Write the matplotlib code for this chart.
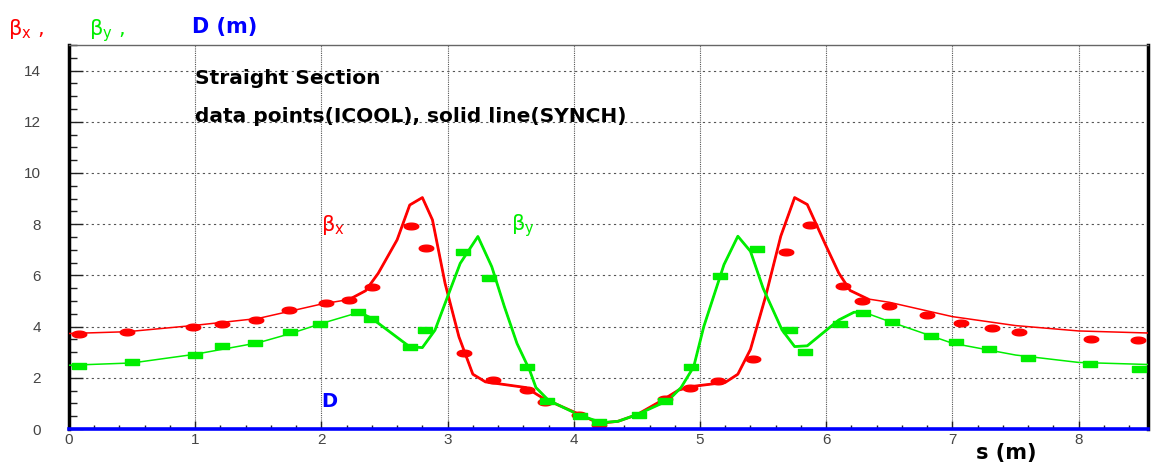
import numpy as np
import matplotlib.pyplot as plt
from matplotlib.ticker import MultipleLocator

plt.rcParams['mathtext.default'] = 'regular'

# SYNCH lattice functions (solid lines)
s_line = [0.0, 0.46, 1.0, 1.5, 1.75, 2.0, 2.22, 2.35, 2.45, 2.6, 2.7, 2.8, 2.88, 2.98, 3.09,
          3.2, 3.3, 3.62, 3.76, 4.05, 4.2, 4.35, 4.5, 4.7, 4.83, 4.95, 5.2, 5.3, 5.4, 5.52,
          5.64, 5.75, 5.85, 6.0, 6.1, 6.19, 6.33, 6.5, 7.0, 7.5, 8.0, 8.55]
betax_line = [3.73, 3.8, 4.05, 4.32, 4.6, 4.88, 5.06, 5.4, 6.08, 7.39, 8.75, 9.04, 8.17, 5.69, 3.6,
              2.14, 1.84, 1.62, 1.19, 0.56, 0.22, 0.3, 0.56, 1.12, 1.52, 1.67, 1.82, 2.14, 3.11, 5.18,
              7.53, 9.04, 8.77, 7.14, 6.09, 5.41, 5.08, 4.95, 4.39, 4.04, 3.83, 3.75]

s_liney = [0.0, 0.5, 1.0, 1.5, 1.75, 2.0, 2.3, 2.4, 2.7, 2.8, 2.9, 3.0, 3.1, 3.24, 3.35, 3.45,
           3.55, 3.65, 3.7, 3.8, 4.05, 4.22, 4.35, 4.5, 4.75, 4.85, 4.95, 5.03, 5.19, 5.3, 5.4,
           5.5, 5.65, 5.75, 5.85, 6.1, 6.22, 6.3, 6.5, 7.0, 7.5, 8.0, 8.55]
betay_line = [2.49, 2.58, 2.92, 3.37, 3.72, 4.12, 4.56, 4.32, 3.21, 3.18, 3.86, 5.17, 6.47, 7.52, 6.34, 4.78,
              3.34, 2.3, 1.62, 1.12, 0.53, 0.25, 0.3, 0.56, 1.12, 1.62, 2.43, 4.0, 6.42, 7.53, 6.94,
              5.5, 3.87, 3.22, 3.25, 4.26, 4.56, 4.56, 4.2, 3.35, 2.89, 2.6, 2.52]

# ICOOL data points
s_px = [0.08, 0.46, 0.985, 1.21, 1.48, 1.74, 2.04, 2.22, 2.40, 2.71, 2.83, 3.13, 3.36, 3.63, 3.77,
        4.04, 4.2, 4.72, 4.92, 5.14, 5.42, 5.68, 5.87, 6.13, 6.28, 6.50, 6.80, 7.07, 7.31, 7.53,
        8.10, 8.47]
betax_pts = [3.73, 3.80, 4.0, 4.09, 4.26, 4.63, 4.91, 5.04, 5.54, 7.94, 7.06, 2.95, 1.91, 1.54, 1.06,
             0.56, 0.17, 1.19, 1.62, 1.88, 2.73, 6.93, 7.95, 5.57, 5.0, 4.81, 4.44, 4.16, 3.95, 3.80,
             3.52, 3.48]

s_py = [0.08, 0.5, 1.0, 1.21, 1.47, 1.75, 1.99, 2.29, 2.39, 2.70, 2.82, 3.12, 3.33, 3.63, 3.79,
        4.05, 4.2, 4.52, 4.72, 4.93, 5.16, 5.45, 5.71, 5.83, 6.11, 6.29, 6.52, 6.83, 7.03, 7.29,
        7.60, 8.09, 8.48]
betay_pts = [2.47, 2.60, 2.91, 3.24, 3.34, 3.80, 4.10, 4.56, 4.28, 3.20, 3.85, 6.92, 5.91, 2.44, 1.10,
             0.52, 0.27, 0.54, 1.10, 2.44, 5.99, 7.03, 3.86, 3.02, 4.10, 4.52, 4.17, 3.63, 3.40, 3.14,
             2.78, 2.52, 2.33]

# dispersion is zero along the straight section
s_D = [0.0, 8.55]
D_line = [0.0, 0.0]

RED = '#ff0000'
GREEN = '#00ee00'
BLUE = '#0000ff'

# marker shapes: flat ellipse for beta_x, flat bar for beta_y
t = np.linspace(0, 2*np.pi, 40)
ellipse = list(zip(7*np.cos(t), 3.2*np.sin(t)))
bar = [(-7, -3), (7, -3), (7, 3), (-7, 3), (-7, -3)]

fig = plt.figure(figsize=(11.51, 4.65), dpi=100)
ax = fig.add_axes([69/1151, 36/465, (1148-69)/1151, (429-45)/465])

sx = np.array(s_line); bx = np.array(betax_line)
sy = np.array(s_liney); by = np.array(betay_line)

# thin tails, thicker through the quadrupole region
ax.plot(sx, bx, color=RED, lw=1.1, zorder=3)
core = (sx >= 2.2) & (sx <= 6.35)
ax.plot(sx[core], bx[core], color=RED, lw=2.0, zorder=3)
ax.plot(sy, by, color=GREEN, lw=1.1, zorder=3)
core = (sy >= 2.2) & (sy <= 6.35)
ax.plot(sy[core], by[core], color=GREEN, lw=2.0, zorder=3)

ax.plot(s_px, betax_pts, ls='none', marker=ellipse, ms=10.5, color=RED, mec=RED, zorder=4)
ax.plot(s_py, betay_pts, ls='none', marker=bar, ms=10.5, color=GREEN, mec=GREEN, zorder=4)
ax.plot(s_D, D_line, color=BLUE, lw=2.6, zorder=5, clip_on=False)

ax.set_xlim(0, 8.55)
ax.set_ylim(0, 15)
ax.xaxis.set_major_locator(MultipleLocator(1))
ax.xaxis.set_minor_locator(MultipleLocator(0.2))
ax.yaxis.set_major_locator(MultipleLocator(2))
ax.yaxis.set_minor_locator(MultipleLocator(0.5))

ax.tick_params(axis='x', which='major', direction='in', length=6, width=1, colors='#222222',
               labelsize=11, labelcolor='#444444', pad=3)
ax.tick_params(axis='x', which='minor', direction='in', length=3, width=1, colors='#222222')
ax.tick_params(axis='y', which='major', direction='in', length=10, width=1, colors='#222222',
               labelsize=11, labelcolor='#444444', pad=20)
ax.tick_params(axis='y', which='minor', direction='in', length=6, width=1, colors='#222222')
for lab in ax.get_xticklabels() + ax.get_yticklabels():
    lab.set_fontfamily('Liberation Sans')

ax.xaxis.grid(True, which='major', color='#555555', ls=(0, (1, 1)), lw=0.8)
ax.yaxis.grid(True, which='major', color='#555555', ls=(0, (2, 3)), lw=0.8)
ax.set_axisbelow(True)

ax.spines['left'].set_linewidth(2.5)
ax.spines['right'].set_linewidth(2.5)
ax.spines['top'].set_linewidth(1.0)
ax.spines['top'].set_color('#666666')
ax.spines['bottom'].set_visible(False)

# annotations inside the frame
bold = dict(fontfamily='DejaVu Sans', fontweight='bold')
ax.text(1.0, 13.7, 'Straight Section', fontsize=14.5, va='center', **bold)
ax.text(1.0, 12.2, 'data points(ICOOL), solid line(SYNCH)', fontsize=14.5, va='center', **bold)
ax.text(2.0, 7.75, r'$\beta_x$', color=RED, fontsize=15)
ax.text(3.5, 7.75, r'$\beta_y$', color=GREEN, fontsize=15)
ax.text(2.0, 0.85, 'D', color=BLUE, fontsize=14, **bold)

# axis titles
fig.text(8/1151, 1-35/465, r'$\beta_x$ ,', color=RED, fontsize=15)
fig.text(89/1151, 1-35/465, r'$\beta_y$ ,', color=GREEN, fontsize=15)
fig.text(192/1151, 1-33/465, 'D (m)', color=BLUE, fontsize=15, **bold)
fig.text(1037/1151, 1-459/465, 's (m)', color='black', fontsize=15, ha='right', **bold)

fig.savefig('out.png', dpi=100)
